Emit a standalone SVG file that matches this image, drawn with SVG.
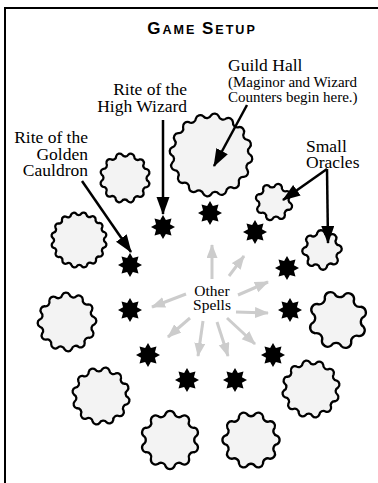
<svg xmlns="http://www.w3.org/2000/svg" xmlns:xlink="http://www.w3.org/1999/xlink" width="378" height="483" viewBox="0 0 378 483">
<style>
.cloud{fill:#f3f3f3;stroke:#000;stroke-linejoin:round}
.star{fill:#000}
.blk{stroke:#000;stroke-width:2.5;fill:none;marker-end:url(#ah)}
.gry{stroke:#cccccc;stroke-width:3;fill:none;marker-end:url(#gh)}
</style>
<defs>
<marker id="ah" markerUnits="userSpaceOnUse" markerWidth="20" markerHeight="14" refX="17" refY="6.5" orient="auto"><path d="M0,0 L18,6.5 L0,13 Z" fill="#000"/></marker>
<marker id="gh" markerUnits="userSpaceOnUse" markerWidth="16" markerHeight="12" refX="13" refY="5.5" orient="auto"><path d="M0,0 L14,5.5 L0,11 Z" fill="#cccccc"/></marker>
<path id="w12" d="M100,0 A15 15 0 0 1 96.59,25.88 A15 15 0 0 0 86.6,50 A15 15 0 0 1 70.71,70.71 A15 15 0 0 0 50,86.6 A15 15 0 0 1 25.88,96.59 A15 15 0 0 0 0,100 A15 15 0 0 1 -25.88,96.59 A15 15 0 0 0 -50,86.6 A15 15 0 0 1 -70.71,70.71 A15 15 0 0 0 -86.6,50 A15 15 0 0 1 -96.59,25.88 A15 15 0 0 0 -100,0 A15 15 0 0 1 -96.59,-25.88 A15 15 0 0 0 -86.6,-50 A15 15 0 0 1 -70.71,-70.71 A15 15 0 0 0 -50,-86.6 A15 15 0 0 1 -25.88,-96.59 A15 15 0 0 0 0,-100 A15 15 0 0 1 25.88,-96.59 A15 15 0 0 0 50,-86.6 A15 15 0 0 1 70.71,-70.71 A15 15 0 0 0 86.6,-50 A15 15 0 0 1 96.59,-25.88 A15 15 0 0 0 100,0 Z"/>
<path id="w16" d="M100,0 A11.5 11.5 0 0 1 98.08,19.51 A11.5 11.5 0 0 0 92.39,38.27 A11.5 11.5 0 0 1 83.15,55.56 A11.5 11.5 0 0 0 70.71,70.71 A11.5 11.5 0 0 1 55.56,83.15 A11.5 11.5 0 0 0 38.27,92.39 A11.5 11.5 0 0 1 19.51,98.08 A11.5 11.5 0 0 0 0,100 A11.5 11.5 0 0 1 -19.51,98.08 A11.5 11.5 0 0 0 -38.27,92.39 A11.5 11.5 0 0 1 -55.56,83.15 A11.5 11.5 0 0 0 -70.71,70.71 A11.5 11.5 0 0 1 -83.15,55.56 A11.5 11.5 0 0 0 -92.39,38.27 A11.5 11.5 0 0 1 -98.08,19.51 A11.5 11.5 0 0 0 -100,0 A11.5 11.5 0 0 1 -98.08,-19.51 A11.5 11.5 0 0 0 -92.39,-38.27 A11.5 11.5 0 0 1 -83.15,-55.56 A11.5 11.5 0 0 0 -70.71,-70.71 A11.5 11.5 0 0 1 -55.56,-83.15 A11.5 11.5 0 0 0 -38.27,-92.39 A11.5 11.5 0 0 1 -19.51,-98.08 A11.5 11.5 0 0 0 0,-100 A11.5 11.5 0 0 1 19.51,-98.08 A11.5 11.5 0 0 0 38.27,-92.39 A11.5 11.5 0 0 1 55.56,-83.15 A11.5 11.5 0 0 0 70.71,-70.71 A11.5 11.5 0 0 1 83.15,-55.56 A11.5 11.5 0 0 0 92.39,-38.27 A11.5 11.5 0 0 1 98.08,-19.51 A11.5 11.5 0 0 0 100,0 Z"/>
<path id="w10" d="M100,0 A18 18 0 0 1 95.11,30.9 A18 18 0 0 0 80.9,58.78 A18 18 0 0 1 58.78,80.9 A18 18 0 0 0 30.9,95.11 A18 18 0 0 1 0,100 A18 18 0 0 0 -30.9,95.11 A18 18 0 0 1 -58.78,80.9 A18 18 0 0 0 -80.9,58.78 A18 18 0 0 1 -95.11,30.9 A18 18 0 0 0 -100,0 A18 18 0 0 1 -95.11,-30.9 A18 18 0 0 0 -80.9,-58.78 A18 18 0 0 1 -58.78,-80.9 A18 18 0 0 0 -30.9,-95.11 A18 18 0 0 1 0,-100 A18 18 0 0 0 30.9,-95.11 A18 18 0 0 1 58.78,-80.9 A18 18 0 0 0 80.9,-58.78 A18 18 0 0 1 95.11,-30.9 A18 18 0 0 0 100,0 Z"/>
<path id="w8" d="M100,0 A22 22 0 0 1 92.39,38.27 A22 22 0 0 0 70.71,70.71 A22 22 0 0 1 38.27,92.39 A22 22 0 0 0 0,100 A22 22 0 0 1 -38.27,92.39 A22 22 0 0 0 -70.71,70.71 A22 22 0 0 1 -92.39,38.27 A22 22 0 0 0 -100,0 A22 22 0 0 1 -92.39,-38.27 A22 22 0 0 0 -70.71,-70.71 A22 22 0 0 1 -38.27,-92.39 A22 22 0 0 0 0,-100 A22 22 0 0 1 38.27,-92.39 A22 22 0 0 0 70.71,-70.71 A22 22 0 0 1 92.39,-38.27 A22 22 0 0 0 100,0 Z"/>
<polygon id="st" points="0,-12 2.87,-6.93 8.49,-8.49 6.93,-2.87 12,0 6.93,2.87 8.49,8.49 2.87,6.93 0,12 -2.87,6.93 -8.49,8.49 -6.93,2.87 -12,0 -6.93,-2.87 -8.49,-8.49 -2.87,-6.93"/>
</defs>

<path d="M5,483 V8 H378" fill="none" stroke="#000" stroke-width="2"/>

<text x="202" y="34" text-anchor="middle" font-family="Liberation Sans, Arial, sans-serif" font-weight="bold" letter-spacing="2" fill="#000"><tspan font-size="17">G</tspan><tspan font-size="12.6">AME </tspan><tspan font-size="17">S</tspan><tspan font-size="12.6">ETUP</tspan></text>

<g id="guild-hall"><use xlink:href="#w16" class="cloud" transform="translate(211,155) scale(0.395)" stroke-width="5.8"/></g>
<g id="cloud-upper-left"><use xlink:href="#w12" class="cloud" transform="translate(125,178) rotate(8) scale(0.235)" stroke-width="9.8"/></g>
<g id="cloud-left-1"><use xlink:href="#w16" class="cloud" transform="translate(79,240) rotate(5) scale(0.265)" stroke-width="8.7"/></g>
<g id="cloud-left-2"><use xlink:href="#w12" class="cloud" transform="translate(67,322) rotate(20) scale(0.275)" stroke-width="8.4"/></g>
<g id="cloud-left-3"><use xlink:href="#w12" class="cloud" transform="translate(101,396) rotate(3) scale(0.27)" stroke-width="8.5"/></g>
<g id="cloud-bottom-1"><use xlink:href="#w10" class="cloud" transform="translate(170,440) rotate(9) scale(0.27)" stroke-width="8.5"/></g>
<g id="cloud-bottom-2"><use xlink:href="#w10" class="cloud" transform="translate(251,440) rotate(-9) scale(0.265)" stroke-width="8.7"/></g>
<g id="cloud-right-2"><use xlink:href="#w12" class="cloud" transform="translate(311,389) rotate(12) scale(0.27)" stroke-width="8.5"/></g>
<g id="cloud-right-1"><use xlink:href="#w8" class="cloud" transform="translate(338,320) rotate(15) scale(0.265)" stroke-width="8.7"/></g>
<g id="small-oracle-2"><use xlink:href="#w8" class="cloud" transform="translate(322,250) rotate(30) scale(0.18)" stroke-width="12.8"/></g>
<g id="small-oracle-1"><use xlink:href="#w8" class="cloud" transform="translate(274,202) rotate(5) scale(0.17)" stroke-width="13.5"/></g>

<g id="stars">
<use xlink:href="#st" class="star" x="163" y="227"/>
<use xlink:href="#st" class="star" x="210" y="213"/>
<use xlink:href="#st" class="star" x="255" y="232"/>
<use xlink:href="#st" class="star" x="130" y="265"/>
<use xlink:href="#st" class="star" x="287" y="268"/>
<use xlink:href="#st" class="star" x="130" y="310"/>
<use xlink:href="#st" class="star" x="290" y="310"/>
<use xlink:href="#st" class="star" x="148" y="355"/>
<use xlink:href="#st" class="star" x="273" y="355"/>
<use xlink:href="#st" class="star" x="187" y="380"/>
<use xlink:href="#st" class="star" x="235" y="380"/>
</g>

<g id="connectors">
<path class="blk" d="M247,105 L214,166"/>
<path class="blk" d="M163,120 V214"/>
<path class="blk" d="M82,181 L131,252"/>
<path class="blk" d="M327,169 L283,200"/>
<path class="blk" d="M327,169 L328,243"/>
<path class="gry" d="M212,279 L212,245"/>
<path class="gry" d="M229,276 L244,256"/>
<path class="gry" d="M238,295 L268,282"/>
<path class="gry" d="M236,312 L268,313"/>
<path class="gry" d="M227,318 L255,344"/>
<path class="gry" d="M217,322 L228,356"/>
<path class="gry" d="M203,321 L198,356"/>
<path class="gry" d="M190,318 L168,337"/>
<path class="gry" d="M186,294 L152,307"/>
</g>

<g id="labels" font-family="Liberation Serif, Times New Roman, serif" fill="#000">
<text x="228" y="71" font-size="17.5">Guild Hall</text>
<text x="228" y="87" font-size="15">(Maginor and Wizard</text>
<text x="228" y="102" font-size="15">Counters begin here.)</text>
<text x="187" y="95" font-size="17.5" text-anchor="end">Rite of the</text>
<text x="187" y="112" font-size="17.5" text-anchor="end">High Wizard</text>
<text x="88" y="143" font-size="17.5" text-anchor="end">Rite of the</text>
<text x="88" y="159.5" font-size="17.5" text-anchor="end">Golden</text>
<text x="88" y="176" font-size="17.5" text-anchor="end">Cauldron</text>
<text x="306" y="152" font-size="17.5">Small</text>
<text x="306" y="168" font-size="17.5">Oracles</text>
<text x="212" y="296" font-size="15.5" text-anchor="middle">Other</text>
<text x="212" y="309.5" font-size="15.5" text-anchor="middle">Spells</text>
</g>
</svg>
